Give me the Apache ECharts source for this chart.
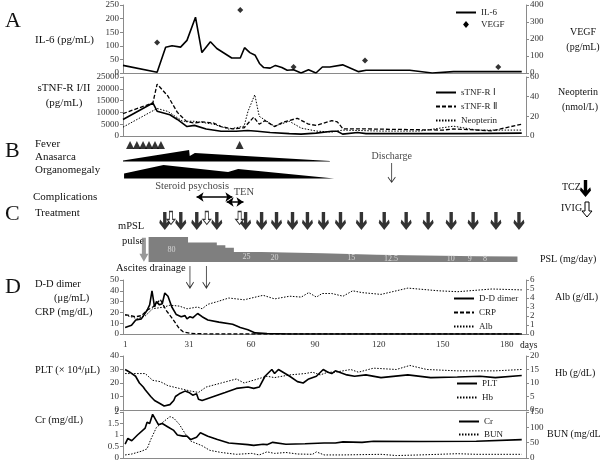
<!DOCTYPE html>
<html><head><meta charset="utf-8">
<script src="https://cdn.jsdelivr.net/npm/echarts@6/dist/echarts.min.js"></script>
<style>html,body{margin:0;padding:0;background:#fff}#c{width:600px;height:463px}#err{position:absolute;left:0;top:0;font:10px monospace;color:red}</style>
</head><body><div id="c"></div><div id="err"></div>
<script>
// ---------- DATA ----------
const dayTicks = [1, 31, 60, 90, 120, 150, 180];

const il6Days = [0, 16, 20, 23, 27, 30, 34, 37, 41, 44, 51, 55, 57, 59.5, 62, 64, 66, 69, 71.5, 74.5, 77, 80, 83.5, 87, 90.5, 93.5, 97, 103, 110.5, 114, 134.5, 145, 155, 187];
const il6Vals = [28, 3, 95, 100, 95, 120, 205, 75, 115, 90, 55, 55, 93, 75, 65, 35, 20, 18, 28, 20, 10, 12, 0, 12, 0, 22, 22, 30, 5, 10, 10, 0, 5, 5];
const vegfDays = [16, 55, 80, 113.5, 176];
const vegfVals = [180, 370, 35, 73, 35];

const tnf1Days = [0, 14, 16, 22, 25.5, 30, 33.5, 39, 46, 53, 58.5, 63, 69, 78, 83.5, 90.5, 98, 100.5, 103, 110, 114, 130, 160, 187];
const tnf1Vals = [7000, 14000, 10500, 9000, 7000, 4000, 4500, 3000, 2000, 2000, 2300, 2000, 1500, 1000, 800, 1200, 2000, 2000, 800, 1500, 1000, 1000, 1000, 1200];
const tnf2Days = [0, 14, 16, 21, 25.5, 30, 33.5, 37, 42.5, 46, 51.4, 56.8, 61.3, 63.9, 66.6, 71, 75.5, 81.8, 87, 90.7, 97.9, 100.5, 103.2, 114, 150, 155, 173, 187];
const tnf2Vals = [9500, 14000, 22000, 17000, 10000, 6000, 5500, 6000, 5500, 4000, 3000, 3500, 8000, 5000, 6500, 4000, 6000, 7500, 5000, 4500, 6500, 6000, 3000, 3000, 2500, 3000, 2200, 5000];
const neoDays = [0, 16, 21, 28, 33.5, 42.5, 49.6, 56.8, 58.6, 61.8, 63.9, 67.5, 71, 78, 83.6, 90.7, 98, 103, 121, 139, 155, 166, 187];
const neoVals = [9, 28, 25, 15, 15, 12, 7, 10, 25, 42, 20, 15, 10, 15, 8, 5, 4, 6, 5, 5, 10, 6, 6];

const feverDays = [3.3, 6.5, 9.4, 12.2, 15, 17.8, 54.7];
const anasarcaDays = [0, 31, 31.3, 33.7, 97];
const anasarcaLevel = [1, 11.5, 5.5, 8.6, 0.5];
const organoDays = [0.5, 19, 49.3, 54, 99];
const organoLevel = [5, 13.5, 6.5, 9.5, 0];
const dischargeDay = 126;
const psychosisSpan = [34.5, 51.3];
const tenSpan = [48.6, 56.5];

const tczDays = [19.6, 27.1, 34.6, 44, 57.5, 65, 72, 79.5, 86.5, 94, 102, 111.8, 122.5, 132.8, 143.1, 153.9, 164.2, 174.9, 185.7];
const ivigDays = [22.5, 39.3, 54.7];
const mpslDay = 9.8;
const pslDays = [12, 30.5, 44, 48, 52, 65, 93.5, 119, 133, 158, 166, 185];
const pslDose = [80, 60, 50, 40, 25, 20, 15, 12.5, 10, 9, 8, 8];
const pslLabelDays = [22.8, 57.9, 71, 107, 125.7, 153.7, 162.6, 169.8];
const pslLabels = [80, 25, 20, 15, 12.5, 10, 9, 8];
const ascitesDays = [31.4, 39.1];

const ddDays = [1, 4, 6, 8.6, 11.3, 12.5, 13.6, 14.8, 15.7, 17.1, 18.4, 19.6, 21.1, 22.9, 25, 27.3, 29.1, 30, 31.4, 32.7, 35, 37.1, 39.8, 45, 51.4, 55, 58.6, 62, 67.5, 78, 90, 187];
const ddVals = [6, 8, 13, 14, 22, 27, 40, 25, 30, 27, 28, 38, 35, 25, 18, 16, 17, 14, 16, 15, 19, 16, 13, 11, 9, 6, 4, 1, 0.5, 0, 0, 0];
const crpDays = [1, 6, 8.6, 11.3, 14, 15.7, 17.5, 20.2, 22.9, 26.4, 28.2, 31.8, 40.7, 187];
const crpVals = [18, 16, 17, 22, 25, 28, 32, 22, 15, 5, 2, 0.5, 0, 0];
const albDays = [1, 6.8, 10.4, 13.9, 19.3, 22, 26.4, 30, 35, 37.1, 39.8, 44.3, 49.6, 56.8, 65.7, 71.1, 78.2, 83.6, 87.1, 90.7, 93.4, 97.9, 103.2, 107.7, 112.1, 121, 133.6, 148, 157, 173, 187];
const albVals = [2.1, 1.7, 2.0, 2.8, 3.0, 3.2, 3.1, 2.8, 3.0, 2.8, 3.3, 3.6, 4.0, 3.8, 4.3, 3.9, 4.2, 4.1, 4.6, 4.1, 4.5, 4.5, 4.2, 4.8, 4.6, 4.4, 5.1, 4.8, 4.7, 5.0, 4.9];

const pltDays = [1, 3.2, 5.9, 7.7, 9.5, 10.4, 11.3, 13, 14.8, 15.7, 17.1, 19.3, 22, 23.8, 24.6, 26.4, 29.1, 30.9, 32.7, 34.5, 35.4, 37.1, 42.5, 47.9, 53.2, 58.6, 61.3, 63.9, 66.6, 69.8, 71.1, 72.9, 78.2, 81.8, 84.5, 87.1, 90.7, 93.9, 96.1, 97.9, 99.6, 105, 108.6, 113.9, 121, 133.6, 144.3, 156.8, 167.5, 174.6, 187];
const pltVals = [30, 28, 25, 20, 17, 15, 16, 10, 7, 7, 5, 3, 4, 7, 10, 12, 14, 13, 11, 12, 8, 7, 10, 13, 16, 17, 16, 17, 25, 30, 27, 30, 25, 21, 20, 23, 25, 30, 28, 27, 29, 26, 25, 26, 24, 26, 24, 24.5, 25, 24, 25.5];
const hbDays = [1, 10.4, 13.9, 17.5, 21.1, 26.4, 31.8, 35.4, 39, 46.1, 53.2, 56.8, 67.5, 71.1, 78.2, 85.4, 88.9, 92.5, 96.1, 99.6, 106.8, 110.4, 117.5, 128.2, 134.5, 142.5, 156.8, 174.6, 187];
const hbVals = [13.5, 13.5, 11, 10.5, 9, 8, 7, 6.5, 8.5, 10, 11.5, 10, 12.5, 12, 13, 13.5, 14, 13, 14, 14, 15, 14, 15.5, 15, 16.5, 15, 14.5, 14.5, 15];

const crDays = [1, 2.3, 4.1, 6.8, 10.4, 11.3, 12.5, 13.9, 14.8, 16.6, 18.4, 21.1, 23.8, 25.5, 28.2, 30, 31.8, 34.5, 36.3, 39.8, 44.3, 49.6, 58.6, 61.3, 65.7, 67.5, 70.2, 76.4, 85.4, 94.3, 99.6, 103.2, 112.1, 117.5, 139, 165.7, 187];
const crVals = [0.6, 0.85, 0.75, 1.0, 1.3, 1.55, 1.5, 1.9, 1.85, 1.45, 1.5, 1.35, 1.2, 1.0, 0.95, 0.95, 0.8, 0.9, 1.1, 0.95, 0.8, 0.65, 0.58, 0.55, 0.6, 0.58, 0.68, 0.6, 0.62, 0.65, 0.65, 0.7, 0.68, 0.73, 0.72, 0.73, 0.8];
const bunDays = [1, 4.1, 8.6, 11.3, 13, 15.7, 19.3, 22, 23.8, 26.4, 29.1, 31.8, 37.1, 40.7, 46.1, 53.2, 60.4, 63.9, 67.5, 71.1, 76.4, 81.8, 88.9, 90.7, 94.3, 103.2, 121, 128.2, 139, 156.8, 165.7, 187];
const bunVals = [10, 13, 22, 30, 60, 100, 120, 135, 130, 110, 80, 55, 40, 25, 18, 12, 15, 10, 20, 15, 18, 13, 12, 20, 10, 10, 12, 8, 10, 14, 12, 12];

// ---------- LAYOUT / STYLE ----------
const F = "'Liberation Serif','Times New Roman',serif";
const XMIN = 0, XMAX = 189;
const GL = 123, GR = 74;
const AX = '#8a8a8a';
const zip = (a, b) => a.map((d, i) => [d, b[i]]);

const grids = [
  {top: 5, height: 68},    // 0 A1
  {top: 77, height: 59},   // 1 A2
  {top: 140, height: 65},  // 2 B
  {top: 205, height: 30},  // 3 C arrows
  {top: 237, height: 25},  // 4 PSL
  {top: 280, height: 54},  // 5 D1
  {top: 356, height: 54},  // 6 D2
  {top: 412, height: 46}   // 7 D3
].map(g => Object.assign({left: GL, right: GR}, g));

function xAx(gi, show, extra) {
  return Object.assign({
    type: 'value', gridIndex: gi, min: XMIN, max: XMAX, show: show,
    axisLine: {show: true, lineStyle: {color: AX, width: 1}},
    axisTick: {show: false}, axisLabel: {show: false}, splitLine: {show: false}
  }, extra || {});
}
function yAx(gi, min, max, interval, pos, show) {
  return {
    type: 'value', gridIndex: gi, min: min, max: max, interval: interval, position: pos,
    show: show !== false,
    axisLine: {show: true, lineStyle: {color: AX, width: 1}},
    axisTick: {show: true, length: 3, lineStyle: {color: AX}},
    splitLine: {show: false},
    axisLabel: {fontFamily: F, fontSize: 9, color: '#333', margin: 4, formatter: v => String(v)}
  };
}

const xAxes = [
  xAx(0, true), xAx(1, true), xAx(2, false), xAx(3, false), xAx(4, false),
  xAx(5, true, {axisLabel: {show: true, customValues: dayTicks, fontFamily: F, fontSize: 9, color: '#333', margin: 6}}),
  xAx(6, true), xAx(7, true)
];
const yAxes = [
  yAx(0, 0, 250, 50, 'left'), yAx(0, 0, 400, 100, 'right'),
  yAx(1, 0, 25000, 5000, 'left'), yAx(1, 0, 60, 20, 'right'),
  yAx(2, 0, 65, 5, 'left', false),
  yAx(3, 0, 30, 5, 'left', false),
  yAx(4, -12, 80, 4, 'left', false),
  yAx(5, 0, 50, 10, 'left'), yAx(5, 0, 6, 1, 'right'),
  yAx(6, 0, 40, 10, 'left'), yAx(6, 0, 20, 5, 'right'),
  yAx(7, 0, 2, 0.5, 'left'), yAx(7, 0, 150, 50, 'right')
];

const SOLID = {color: '#000', width: 1.6, type: 'solid'};
const DASH = {color: '#000', width: 1.3, type: [4, 2]};
const DOT = {color: '#000', width: 1, type: [1.5, 1.5]};

function lineS(name, xi, yi, days, vals, ls) {
  return {name: name, type: 'line', xAxisIndex: xi, yAxisIndex: yi, data: zip(days, vals),
    showSymbol: false, symbol: 'none', lineStyle: ls, itemStyle: {color: '#000'}, silent: true, z: 3};
}

const ARROW_THIN = 'path://M4.5,0 L5.5,0 L5.5,17 L9.2,13 L9.9,13.7 L5,19 L0.1,13.7 L0.8,13 L4.5,17 Z';
const ARROW_BOLD = 'path://M3.8,0 L7.2,0 L7.2,10.5 L10.2,7.2 L11,10.4 L5.5,17 L0,10.4 L0.8,7.2 L3.8,10.5 Z';
const ARROW_HOLLOW = 'path://M3,0 L7,0 L7,9 L10,9 L5,15 L0,9 L3,9 Z';
const ARROW_GRAY = 'path://M2.5,0 L6.5,0 L6.5,16 L9,16 L4.5,24 L0,16 L2.5,16 Z';
const HIDDEN = {color: 'transparent', borderWidth: 0};

const ANA_BASE = 43.5, ORG_BASE = 26.5, FEVER_Y = 60, DISCH_Y = 32, PSY_Y = 8, TEN_Y = 3;

function polygon(name, days, levels, base) {
  return {
    name: name, type: 'custom', xAxisIndex: 2, yAxisIndex: 4, data: [[days[0], base]], clip: false, silent: true,
    renderItem: (p, api) => {
      const pts = [];
      for (let i = 0; i < days.length; i++) pts.push(api.coord([days[i], base + levels[i]]));
      for (let i = days.length - 1; i >= 0; i--) pts.push(api.coord([days[i], base]));
      return {type: 'polygon', shape: {points: pts}, style: {fill: '#000'}};
    }
  };
}

function dblArrow(span, y) {
  return {type: 'line', xAxisIndex: 2, yAxisIndex: 4, silent: true, symbol: 'arrow', symbolSize: [7, 7],
    showSymbol: true, lineStyle: {color: '#000', width: 1.5}, itemStyle: {color: '#000'},
    data: [{value: [span[0], y], symbolRotate: 90}, {value: [span[1], y], symbolRotate: -90}]};
}

const pslYMin = -12;

const series = [
  lineS('IL-6', 0, 0, il6Days, il6Vals, SOLID),
  {name: 'VEGF', type: 'scatter', xAxisIndex: 0, yAxisIndex: 1, data: zip(vegfDays, vegfVals),
   symbol: 'diamond', symbolSize: 6, itemStyle: {color: '#000'}, silent: true},
  lineS('sTNF-R \u2160', 1, 2, tnf1Days, tnf1Vals, SOLID),
  lineS('sTNF-R \u2161', 1, 2, tnf2Days, tnf2Vals, DASH),
  lineS('Neopterin', 1, 3, neoDays, neoVals, DOT),
  {type: 'scatter', xAxisIndex: 2, yAxisIndex: 4, data: feverDays.map(d => [d, FEVER_Y]),
   symbol: 'triangle', symbolSize: [8, 8], itemStyle: {color: '#000'}, silent: true, clip: false},
  polygon('Anasarca', anasarcaDays, anasarcaLevel, ANA_BASE),
  polygon('Organomegaly', organoDays, organoLevel, ORG_BASE),
  {type: 'scatter', xAxisIndex: 2, yAxisIndex: 4, data: [[dischargeDay, DISCH_Y]],
   symbol: ARROW_THIN, symbolSize: [8, 20], itemStyle: {color: '#000'}, silent: true, clip: false,
   label: {show: true, position: 'top', distance: 2, formatter: 'Discharge', fontFamily: F, fontSize: 10, color: '#111'}},
  dblArrow(psychosisSpan, PSY_Y),
  dblArrow(tenSpan, TEN_Y),
  {type: 'scatter', xAxisIndex: 2, yAxisIndex: 4, silent: true, clip: false, symbolSize: 1, itemStyle: HIDDEN,
   data: [{value: [(psychosisSpan[0] + psychosisSpan[1]) / 2 - 10.5, PSY_Y + 11], name: 'Steroid psychosis'},
          {value: [tenSpan[1] + 0.2, TEN_Y + 10], name: 'TEN'}],
   label: {show: true, position: 'inside', formatter: p => p.name, fontFamily: F, fontSize: 10.5, color: '#111'}},
  {type: 'scatter', xAxisIndex: 3, yAxisIndex: 5, data: tczDays.map(d => [d, 14]),
   symbol: ARROW_BOLD, symbolSize: [11, 18], itemStyle: {color: '#000'}, silent: true, clip: false, z: 4},
  {type: 'scatter', xAxisIndex: 3, yAxisIndex: 5, data: ivigDays.map(d => [d, 17]),
   symbol: ARROW_HOLLOW, symbolSize: [8, 13], itemStyle: {color: '#fff', borderColor: '#000', borderWidth: 1}, silent: true, clip: false, z: 5},
  {type: 'line', xAxisIndex: 4, yAxisIndex: 6, data: zip(pslDays, pslDose), step: 'end', symbol: 'none',
   lineStyle: {width: 0}, areaStyle: {color: '#7f7f7f', opacity: 1, origin: 'start'}, silent: true},
  {type: 'scatter', xAxisIndex: 4, yAxisIndex: 6, data: [[mpslDay, 33]], symbol: ARROW_GRAY, symbolSize: [9, 24],
   itemStyle: {color: '#7f7f7f'}, silent: true, clip: false},
  {type: 'scatter', xAxisIndex: 4, yAxisIndex: 6, silent: true, symbolSize: 1, itemStyle: HIDDEN,
   data: pslLabelDays.map((d, i) => ({value: [d, (pslLabels[i] + pslYMin) / 2], name: String(pslLabels[i])})),
   label: {show: true, position: 'inside', formatter: p => p.name, fontFamily: F, fontSize: 8, color: '#e8e8e8'}, z: 5},
  lineS('D-D dimer', 5, 7, ddDays, ddVals, SOLID),
  lineS('CRP', 5, 7, crpDays, crpVals, DASH),
  lineS('Alb', 5, 8, albDays, albVals, DOT),
  {type: 'scatter', xAxisIndex: 5, yAxisIndex: 7, data: ascitesDays.map(d => [d, 52.3]),
   symbol: ARROW_THIN, symbolSize: [8, 23], itemStyle: {color: '#000'}, silent: true, clip: false},
  lineS('PLT', 6, 9, pltDays, pltVals, SOLID),
  lineS('Hb', 6, 10, hbDays, hbVals, DOT),
  lineS('Cr', 7, 11, crDays, crVals, SOLID),
  lineS('BUN', 7, 12, bunDays, bunVals, DOT)
];

function leg(names, left, top, gap) {
  return {data: names, orient: 'vertical', left: left, top: top, itemWidth: 20, itemHeight: 7, itemGap: gap,
    padding: 0, selectedMode: false, itemStyle: {opacity: 0},
    textStyle: {fontFamily: F, fontSize: 9, color: '#222'}};
}

const legends = [
  leg(['IL-6', {name: 'VEGF', icon: 'path://M5,0 L10,6 L5,12 L0,6 Z', itemStyle: {opacity: 1, color: '#000'}}], 455, 8, 3),
  leg(['sTNF-R \u2160', 'sTNF-R \u2161', 'Neopterin'], 435, 88, 5),
  leg(['D-D dimer', 'CRP', 'Alb'], 453, 294, 5),
  leg(['PLT', 'Hb'], 456, 379, 5),
  leg(['Cr', 'BUN'], 458, 417, 4)
];

function txt(x, y, s, size, align) {
  return {type: 'text', x: x, y: y, silent: true,
    style: {text: s, fontFamily: F, fontSize: size || 10, fill: '#111', textAlign: align || 'left', textVerticalAlign: 'middle'}};
}
function poly(x, y, pts, fill, stroke) {
  return {type: 'polygon', x: x, y: y, silent: true, shape: {points: pts},
    style: {fill: fill, stroke: stroke || null, lineWidth: 1}};
}

const graphics = [
  txt(5, 21, 'A', 22), txt(5, 151, 'B', 22), txt(5, 214, 'C', 22), txt(5, 287, 'D', 22),
  txt(35, 40, 'IL-6 (pg/mL)', 11),
  txt(583, 32, 'VEGF', 10, 'center'), txt(583, 47, '(pg/mL)', 10, 'center'),
  txt(64, 88, 'sTNF-R I/II', 11, 'center'), txt(64, 103, '(pg/mL)', 11, 'center'),
  txt(578, 92, 'Neopterin', 10, 'center'), txt(580, 107, '(nmol/L)', 10, 'center'),
  txt(35, 144, 'Fever', 11), txt(35, 157, 'Anasarca', 11), txt(35, 170, 'Organomegaly', 11),
  txt(33, 197, 'Complications', 11),
  txt(35, 213, 'Treatment', 11),
  txt(118, 226, 'mPSL', 10.5), txt(122, 241, 'pulse', 10.5),
  txt(562, 187, 'TCZ'), txt(561, 208, 'IVIG'),
  txt(540, 259, 'PSL (mg/day)'),
  txt(116, 268, 'Ascites drainage', 10.5),
  txt(35, 284, 'D-D dimer', 10.5), txt(54, 298, '(\u03bcg/mL)', 10.5), txt(35, 312, 'CRP (mg/dL)', 10.5),
  txt(555, 297, 'Alb (g/dL)'),
  txt(35, 370, 'PLT (\u00d7 10\u2074/\u03bcL)', 10.5),
  txt(555, 373, 'Hb (g/dL)'),
  txt(35, 420, 'Cr (mg/dL)', 10.5),
  txt(547, 434, 'BUN (mg/dL)'),
  txt(520, 345, 'days', 9.5),
  poly(580, 180, [[3.8,0],[7.2,0],[7.2,10.5],[10.2,7.2],[11,10.4],[5.5,17],[0,10.4],[0.8,7.2],[3.8,10.5]], '#000'),
  poly(582, 202, [[3,0],[7,0],[7,9],[10,9],[5,15],[0,9],[3,9]], '#fff', '#000')
];

try {
  const chart = echarts.init(document.getElementById('c'), null, {renderer: 'canvas'});
  chart.setOption({
    animation: false,
    backgroundColor: '#fff',
    grid: grids, xAxis: xAxes, yAxis: yAxes, series: series, legend: legends, graphic: graphics
  });
} catch (e) {
  document.getElementById('err').textContent = String(e && e.stack || e).slice(0, 600);
}
</script></body></html>
